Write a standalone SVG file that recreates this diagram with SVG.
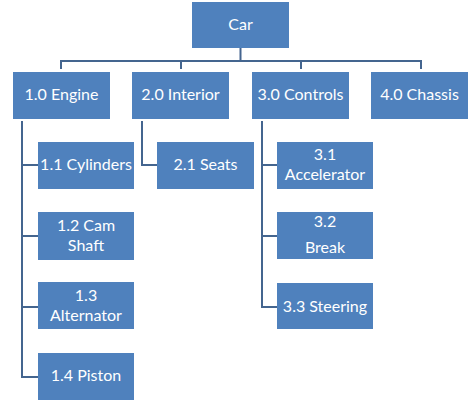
<svg xmlns="http://www.w3.org/2000/svg" width="471" height="404" viewBox="0 0 471 404">
<style>
.box{fill:#4F81BD;}
.t{font-family:Lato,"Liberation Sans",Arial,sans-serif;font-size:16px;fill:#FFFFFF;text-anchor:middle;}
.c{fill:none;stroke:#44658F;stroke-width:2;}
</style>
<rect width="471" height="404" fill="#FFFFFF"/>
<g id="connectors">
<path class="c" d="M240.5 48 V61 M61 69 V61 H421 V69 M181 61 V69 M301 61 V69"/>
<path class="c" d="M22 121 V377 H38 M22 165 H38 M22 236 H38 M22 307 H38"/>
<path class="c" d="M142 121 V165 H157"/>
<path class="c" d="M262 121 V307 H277 M262 165 H277 M262 236 H277"/>
</g>
<g id="car"><rect class="box" x="192" y="2" width="97" height="46"/><text class="t" x="240.5" y="30">Car</text></g>
<g id="engine"><rect class="box" x="13" y="72" width="97" height="47"/><text class="t" x="61.5" y="100">1.0 Engine</text></g>
<g id="interior"><rect class="box" x="132" y="72" width="97" height="47"/><text class="t" x="180.5" y="100">2.0 Interior</text></g>
<g id="controls"><rect class="box" x="252" y="72" width="97" height="47"/><text class="t" x="300.5" y="100">3.0 Controls</text></g>
<g id="chassis"><rect class="box" x="371" y="72" width="97" height="47"/><text class="t" x="419.5" y="100">4.0 Chassis</text></g>
<g id="cylinders"><rect class="box" x="38" y="142" width="96" height="47"/><text class="t" x="86" y="170">1.1 Cylinders</text></g>
<g id="camshaft"><rect class="box" x="38" y="212" width="96" height="48"/><text class="t" x="86" y="231">1.2 Cam</text><text class="t" x="86" y="251">Shaft</text></g>
<g id="alternator"><rect class="box" x="38" y="282" width="96" height="47"/><text class="t" x="86" y="301">1.3</text><text class="t" x="86" y="321">Alternator</text></g>
<g id="piston"><rect class="box" x="38" y="353" width="96" height="47"/><text class="t" x="86" y="381">1.4 Piston</text></g>
<g id="seats"><rect class="box" x="157" y="142" width="97" height="47"/><text class="t" x="205.5" y="170">2.1 Seats</text></g>
<g id="accelerator"><rect class="box" x="277" y="142" width="96" height="47"/><text class="t" x="325" y="160">3.1</text><text class="t" x="325" y="180">Accelerator</text></g>
<g id="break"><rect class="box" x="277" y="212" width="96" height="47"/><text class="t" x="325" y="227">3.2</text><text class="t" x="325" y="253">Break</text></g>
<g id="steering"><rect class="box" x="277" y="283" width="96" height="46"/><text class="t" x="325" y="312">3.3 Steering</text></g>
</svg>
